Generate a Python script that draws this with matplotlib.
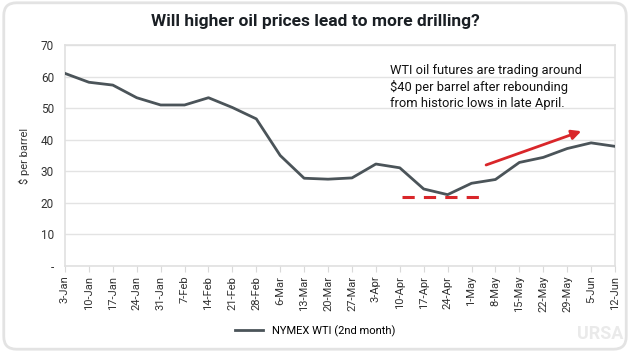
import matplotlib
matplotlib.use("Agg")
import matplotlib.pyplot as plt
from matplotlib.patches import FancyBboxPatch, FancyArrowPatch

plt.rcParams['font.family'] = ['Roboto', 'DejaVu Sans']

dates = ["3-Jan", "10-Jan", "17-Jan", "24-Jan", "31-Jan", "7-Feb", "14-Feb", "21-Feb",
         "28-Feb", "6-Mar", "13-Mar", "20-Mar", "27-Mar", "3-Apr", "10-Apr", "17-Apr",
         "24-Apr", "1-May", "8-May", "15-May", "22-May", "29-May", "5-Jun", "12-Jun"]
wti = [61.0, 58.2, 57.3, 53.3, 51.0, 51.0, 53.3, 50.2, 46.6, 35.0, 27.8, 27.5,
       27.9, 32.3, 31.1, 24.4, 22.6, 26.2, 27.4, 32.8, 34.4, 37.2, 39.0, 37.9]
yticks = [0, 10, 20, 30, 40, 50, 60, 70]
ytick_labels = ["-", "10", "20", "30", "40", "50", "60", "70"]
support_x = [14.1, 17.4]
support_y = [21.9, 21.9]
arrow_start = (17.5, 31.7)
arrow_end = (21.7, 43.0)

fig = plt.figure(figsize=(6.3, 3.52), dpi=100)
fig.patch.set_facecolor('white')
frame = FancyBboxPatch((0.006, 0.008), 0.988, 0.984, boxstyle="round,pad=0,rounding_size=0.02",
                       transform=fig.transFigure, facecolor='none', edgecolor='#e3e3e3',
                       linewidth=2.0, mutation_aspect=630/352, zorder=-10)
fig.patches.append(frame)

ax = fig.add_axes([65/630, 1-266/352, 550/630, 221/352])
ax.patch.set_alpha(0)
x = list(range(len(dates)))
line, = ax.plot(x, wti, color='#4b5459', linewidth=2.0, label='NYMEX WTI (2nd month)', zorder=3)
ax.plot(support_x, support_y, color='#d9262a', linewidth=2.2, dashes=(4, 3), zorder=3)
ax.add_patch(FancyArrowPatch(arrow_start, arrow_end, arrowstyle='-|>', mutation_scale=14,
                             color='#d9262a', linewidth=2.0, zorder=4))

ax.set_xlim(0, len(dates) - 1)
ax.set_ylim(0, 70)
ax.set_yticks(yticks)
ax.set_yticklabels(ytick_labels, fontsize=8.5, color='#333333')
ax.set_xticks(x)
ax.set_xticklabels(dates, rotation=90, fontsize=8, color='#333333')
ax.tick_params(axis='y', length=0, pad=8)
ax.tick_params(axis='x', length=4, color='#d9d9d9', pad=3)
ax.grid(axis='y', color='#e3e3e3', linewidth=1.0)
ax.set_axisbelow(True)
for s in ax.spines.values():
    s.set_color('#e0e0e0')
    s.set_linewidth(1.2)
ax.set_ylabel('$ per barrel', fontsize=8, color='#333333', labelpad=8)

ax.text(13.6, 64.0, "WTI oil futures are trading around\n$40 per barrel after rebounding\nfrom historic lows in late April.",
        fontsize=9.3, color='#111111', va='top', ha='left', linespacing=1.3)

fig.text(0.5, 0.94, "Will higher oil prices lead to more drilling?", ha='center', va='center',
         fontsize=12.5, fontweight='bold', color='#1a1f24')

leg = fig.legend(handles=[line], loc='center', bbox_to_anchor=(0.5, 1-331/352), frameon=False,
                 fontsize=8, handlelength=2.5)
fig.text(600/630, 1-334/352, "URSA", ha='center', va='center', fontsize=13, fontweight='bold',
         color='#eaeaea')

fig.savefig('out.png', dpi=100, facecolor='white')
